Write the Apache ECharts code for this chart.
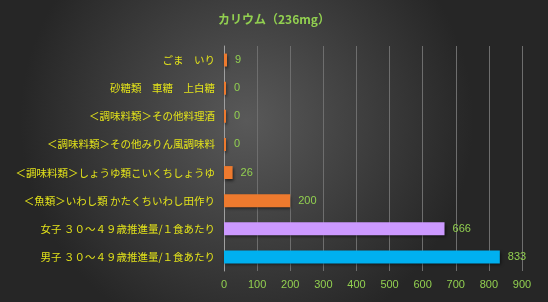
<!DOCTYPE html>
<html>
<head>
<meta charset="utf-8">
<script src="https://cdn.jsdelivr.net/npm/echarts@6/dist/echarts.min.js"></script>
<style>
  html, body { margin: 0; padding: 0; }
  #chart { width: 548px; height: 302px; }
</style>
</head>
<body>
<div id="chart"></div>
<script>
// categories top to bottom as in the picture
var categories = [
  'ごま　いり',
  '砂糖類　車糖　上白糖',
  '＜調味料類＞その他料理酒',
  '＜調味料類＞その他みりん風調味料',
  '＜調味料類＞しょうゆ類こいくちしょうゆ',
  '＜魚類＞いわし類 かたくちいわし田作り',
  '女子 ３０～４９歳推進量/１食あたり',
  '男子 ３０～４９歳推進量/１食あたり'
]
var values = [9, 0, 0, 0, 26, 200, 666, 833]
var barColors = ['#ee7a2e', '#ee7a2e', '#ee7a2e', '#ee7a2e', '#ee7a2e', '#ee7a2e', '#cc99ff', '#00b0f0']
var xTicks = [0, 900, 100]

var chart = echarts.init(document.getElementById('chart'))

var seriesData = []
for (var i = 0; i < values.length; i++) {
  seriesData.push({
    value: values[i],
    itemStyle: { color: barColors[i] }
  })
}

var option = {
  backgroundColor: {
    type: 'radial', x: 0.45, y: 0.4, r: 0.75,
    colorStops: [
      { offset: 0, color: '#595959' },
      { offset: 1, color: '#262626' }
    ]
  },
  textStyle: { fontFamily: 'Noto Sans CJK JP' },
  title: {
    text: 'カリウム（236mg）',
    left: 'center',
    top: 8,
    textStyle: { color: '#92d050', fontSize: 12, fontWeight: 'bold', fontFamily: 'Noto Sans CJK JP' }
  },
  grid: { left: 224, right: 26, top: 46, bottom: 31, containLabel: false },
  xAxis: {
    type: 'value',
    min: xTicks[0],
    max: xTicks[1],
    interval: xTicks[2],
    axisLine: { show: false },
    axisTick: { show: false },
    axisLabel: { color: '#92d050', fontSize: 11, margin: 8, fontFamily: 'Liberation Sans' },
    splitLine: { lineStyle: { color: '#6e6e6e', width: 1 } }
  },
  yAxis: {
    type: 'category',
    data: categories,
    inverse: true,
    axisLine: { show: true, lineStyle: { color: '#a0a0a0', width: 1 } },
    axisTick: { show: false },
    axisLabel: { color: '#e2e21a', fontSize: 10.5, margin: 9 }
  },
  series: [{
    type: 'bar',
    data: seriesData,
    barWidth: '46%',
    barMinHeight: 2,
    itemStyle: {
      shadowColor: 'rgba(0,0,0,0.55)',
      shadowBlur: 3,
      shadowOffsetX: 1,
      shadowOffsetY: 2
    },
    label: {
      show: true,
      position: 'right',
      distance: 8,
      color: '#92d050',
      fontSize: 11,
      fontFamily: 'Liberation Sans'
    }
  }]
}

chart.setOption(option)
</script>
</body>
</html>
